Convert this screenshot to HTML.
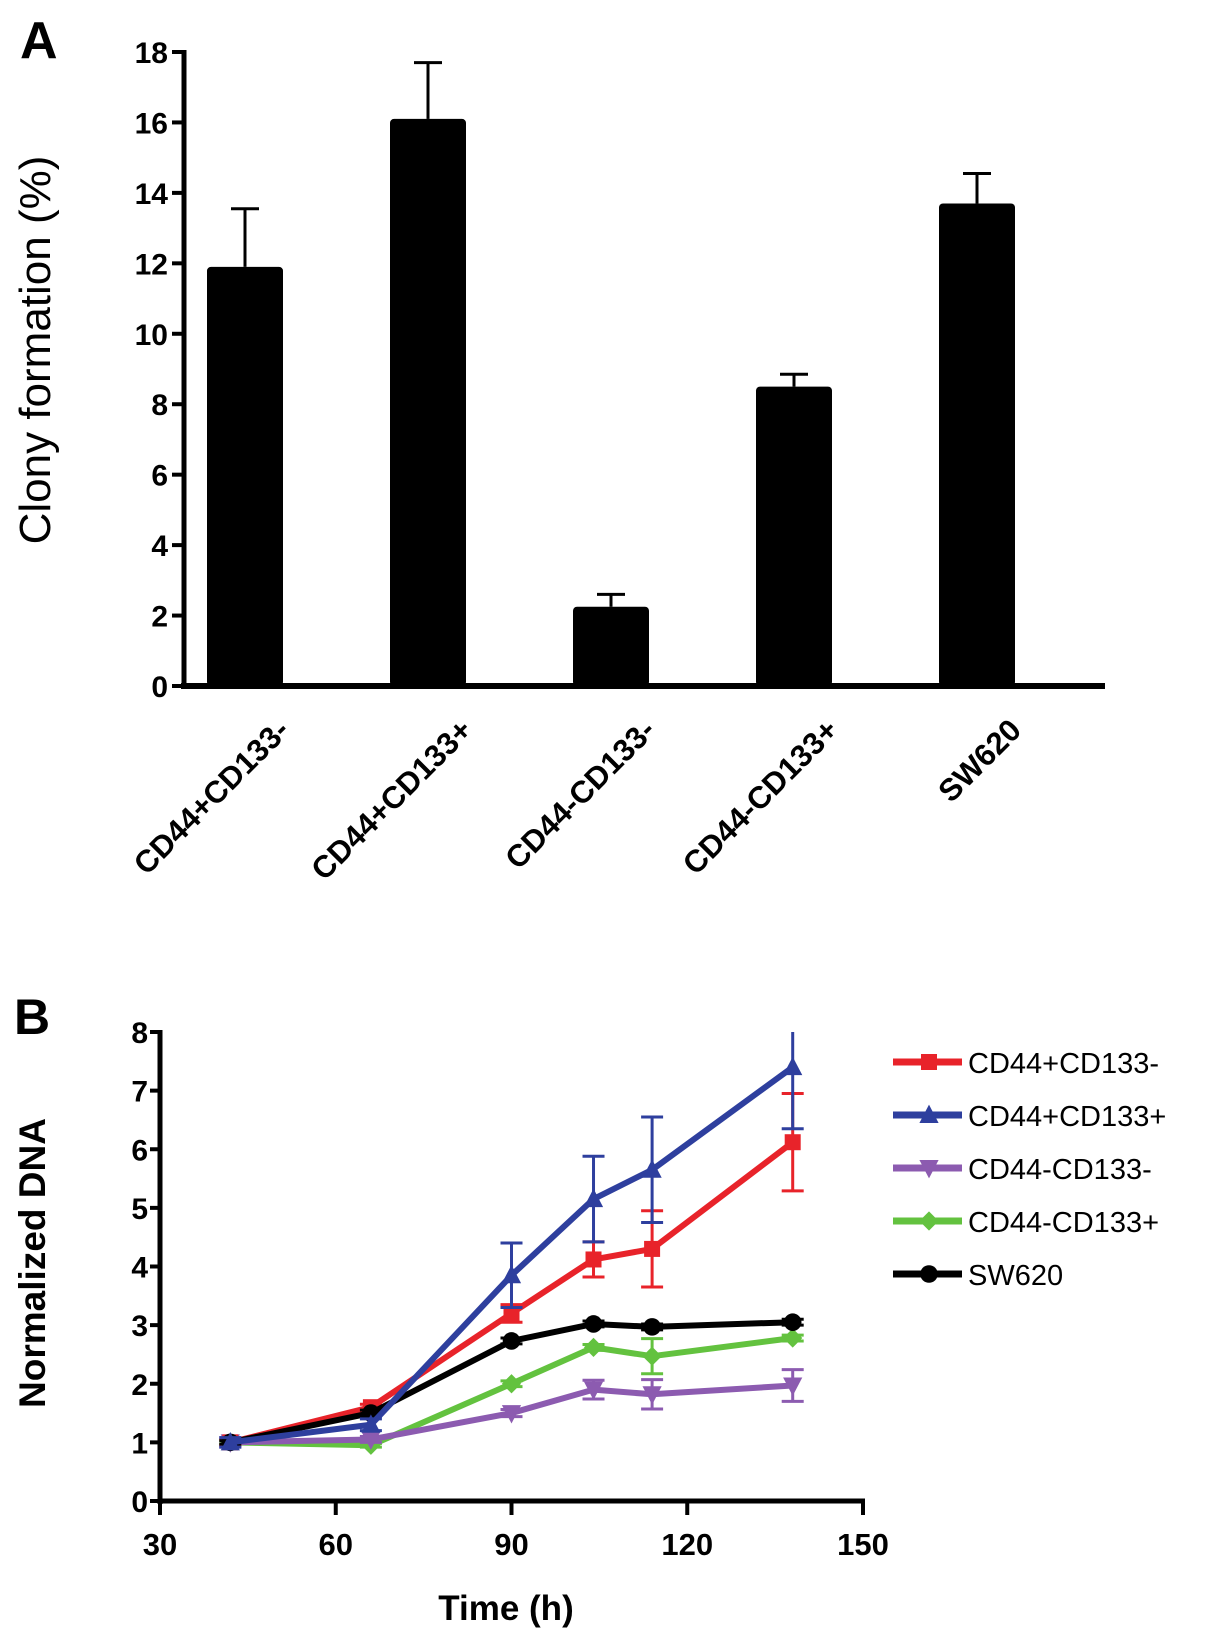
<!DOCTYPE html>
<html><head><meta charset="utf-8"><style>
html,body{margin:0;padding:0;background:#fff;}
svg{display:block;font-family:"Liberation Sans",Arial,sans-serif;}
</style></head><body>
<svg id="fig" width="1205" height="1638" viewBox="0 0 1205 1638">
<text x="20" y="58" font-size="52" font-weight="bold">A</text>
<g id="chartA"></g>
<text x="14" y="1034" font-size="50" font-weight="bold">B</text>
<g id="chartB"></g>
</svg>
<script>
const barCategories=["CD44+CD133-","CD44+CD133+","CD44-CD133-","CD44-CD133+","SW620"];
const barValues=[11.9,16.1,2.25,8.5,13.7];
const barErrors=[1.65,1.6,0.35,0.35,0.85];
const barTicks=[0,2,4,6,8,10,12,14,16,18];

const times=[42,66,90,104,114,138];
const seriesNames=["CD44+CD133-","CD44+CD133+","CD44-CD133-","CD44-CD133+","SW620"];
const redVals=[1,1.6,3.2,4.12,4.3,6.12];
const redErr=[0.05,0.05,0.15,0.3,0.65,0.83];
const blueVals=[1,1.3,3.85,5.15,5.65,7.4];
const blueErr=[0.08,0.1,0.55,0.73,0.9,1.05];
const purpleVals=[1,1.05,1.5,1.9,1.82,1.97];
const purpleErr=[0.08,0.05,0.06,0.16,0.25,0.27];
const greenVals=[1,0.95,2.0,2.62,2.47,2.78];
const greenErr=[0.03,0.03,0.05,0.05,0.3,0.05];
const blackVals=[1,1.5,2.73,3.02,2.97,3.05];
const blackErr=[0.03,0.05,0.05,0.05,0.05,0.05];
const lineYTicks=[0,1,2,3,4,5,6,7,8];
const lineXTicks=[30,60,90,120,150];

const NS="http://www.w3.org/2000/svg";
function mk(parent,tag,attrs,text){const e=document.createElementNS(NS,tag);for(const k in attrs)e.setAttribute(k,attrs[k]);if(text!==undefined)e.textContent=text;parent.appendChild(e);return e;}

// ---- Chart A ----
const A=document.getElementById('chartA');
const ay=v=>686-v*(686-52)/18;
const ax=i=>245+i*183;
const bw=76;
let e;
e=mk(A,'line',{x1:184,y1:ay(18)-2,x2:184,y2:ay(0)+3,stroke:'#000','stroke-width':5});


e=mk(A,'line',{x1:181,y1:ay(0),x2:1105,y2:ay(0),stroke:'#000','stroke-width':6});


barTicks.forEach(t=>{
 mk(A,'line',{x1:172,y1:ay(t),x2:186,y2:ay(t),stroke:'#000','stroke-width':4});
 e=mk(A,'text',{x:168,y:ay(t)+11,'font-size':30,'font-weight':'bold','text-anchor':'end'},String(t));
 
 
});
e=mk(A,'text',{x:0,y:0,'font-size':44,'text-anchor':'middle',transform:'translate(50,350) rotate(-90)'},'Clony formation (%)');


barCategories.forEach((c,i)=>{
 const cx=ax(i),top=ay(barValues[i]),et=ay(barValues[i]+barErrors[i]);
 e=mk(A,'line',{x1:cx,y1:et,x2:cx,y2:top,stroke:'#000','stroke-width':3});
 
 
 mk(A,'line',{x1:cx-14,y1:et,x2:cx+14,y2:et,stroke:'#000','stroke-width':3});
 e=mk(A,'rect',{x:cx-bw/2,y:top,width:bw,height:ay(0)-top,rx:4,fill:'#000'});
 
 
 e=mk(A,'text',{x:0,y:0,'font-size':31,'font-weight':'bold','text-anchor':'end',transform:`translate(${cx+46},${ay(0)+46}) rotate(-45)`},c);
 
 
});

// ---- Chart B ----
const B=document.getElementById('chartB');
const by=v=>1501-v*(1501-1032)/8;
const bx=t=>160+(t-30)*(863-160)/120;
const yMax=8;
e=mk(B,'line',{x1:160,y1:by(8)-2,x2:160,y2:by(0)+3,stroke:'#000','stroke-width':5});


e=mk(B,'line',{x1:158,y1:by(0),x2:865,y2:by(0),stroke:'#000','stroke-width':5});


lineYTicks.forEach(t=>{
 mk(B,'line',{x1:150,y1:by(t),x2:162,y2:by(t),stroke:'#000','stroke-width':4});
 e=mk(B,'text',{x:148,y:by(t)+11,'font-size':30,'font-weight':'bold','text-anchor':'end'},String(t));
 
 
});
lineXTicks.forEach(t=>{
 mk(B,'line',{x1:bx(t),y1:by(0),x2:bx(t),y2:by(0)+14,stroke:'#000','stroke-width':4});
 e=mk(B,'text',{x:bx(t),y:1555,'font-size':31,'font-weight':'bold','text-anchor':'middle'},String(t));
 
 
});
e=mk(B,'text',{x:506,y:1620,'font-size':35,'font-weight':'bold','text-anchor':'middle'},'Time (h)');


e=mk(B,'text',{x:0,y:0,'font-size':37,'font-weight':'bold','text-anchor':'middle',transform:'translate(45,1263) rotate(-90)'},'Normalized DNA');



function marker(g,shape,x,y,col,s){
 if(shape==='square')return mk(g,'rect',{x:x-s,y:y-s,width:2*s,height:2*s,fill:col});
 if(shape==='tri')return mk(g,'polygon',{points:`${x},${y-s*1.3} ${x-s*1.2},${y+s} ${x+s*1.2},${y+s}`,fill:col});
 if(shape==='itri')return mk(g,'polygon',{points:`${x},${y+s*1.3} ${x-s*1.2},${y-s} ${x+s*1.2},${y-s}`,fill:col});
 if(shape==='diamond')return mk(g,'polygon',{points:`${x},${y-s*1.2} ${x+s*1.2},${y} ${x},${y+s*1.2} ${x-s*1.2},${y}`,fill:col});
 return mk(g,'circle',{cx:x,cy:y,r:s*1.1,fill:col});
}
const series=[
 {vals:redVals,err:redErr,col:'#e8232a',shape:'square',slug:'cd44pos-cd133neg'},
 {vals:blueVals,err:blueErr,col:'#2e3f9e',shape:'tri',slug:'cd44pos-cd133pos'},
 {vals:purpleVals,err:purpleErr,col:'#8c5bb0',shape:'itri',slug:'cd44neg-cd133neg'},
 {vals:greenVals,err:greenErr,col:'#63c23f',shape:'diamond',slug:'cd44neg-cd133pos'},
 {vals:blackVals,err:blackErr,col:'#000',shape:'circle',slug:'sw620'}
];
const drawOrder=[3,2,0,4,1];
drawOrder.forEach(si=>{
 const s=series[si];
 const g=mk(B,'g',{});
 
 
 times.forEach((t,i)=>{
  const hi=s.vals[i]+s.err[i];
  const clipped=hi>yMax;
  const x=bx(t),y1=by(Math.min(hi,yMax)),y2=by(s.vals[i]-s.err[i]);
  e=mk(g,'line',{x1:x,y1:y1,x2:x,y2:y2,stroke:s.col,'stroke-width':3});
  
  
  if(!clipped)mk(g,'line',{x1:x-11,y1:y1,x2:x+11,y2:y1,stroke:s.col,'stroke-width':3});
  mk(g,'line',{x1:x-11,y1:y2,x2:x+11,y2:y2,stroke:s.col,'stroke-width':3});
 });
 const pts=times.map((t,i)=>bx(t)+','+by(s.vals[i])).join(' ');
 e=mk(g,'polyline',{points:pts,fill:'none',stroke:s.col,'stroke-width':6,'stroke-linejoin':'round'});
 
 
 times.forEach((t,i)=>{
  e=marker(g,s.shape,bx(t),by(s.vals[i]),s.col,8);
  
  
 });
});
// legend
const legY=[1062,1115,1168,1221,1274];
series.forEach((s,i)=>{
 const g=mk(B,'g',{});
 
 
 mk(g,'line',{x1:893,y1:legY[i],x2:962,y2:legY[i],stroke:s.col,'stroke-width':7});
 marker(g,s.shape,929,legY[i],s.col,8);
 mk(g,'text',{x:968,y:legY[i]+11,'font-size':29},seriesNames[i]);
});
</script>
</body></html>
